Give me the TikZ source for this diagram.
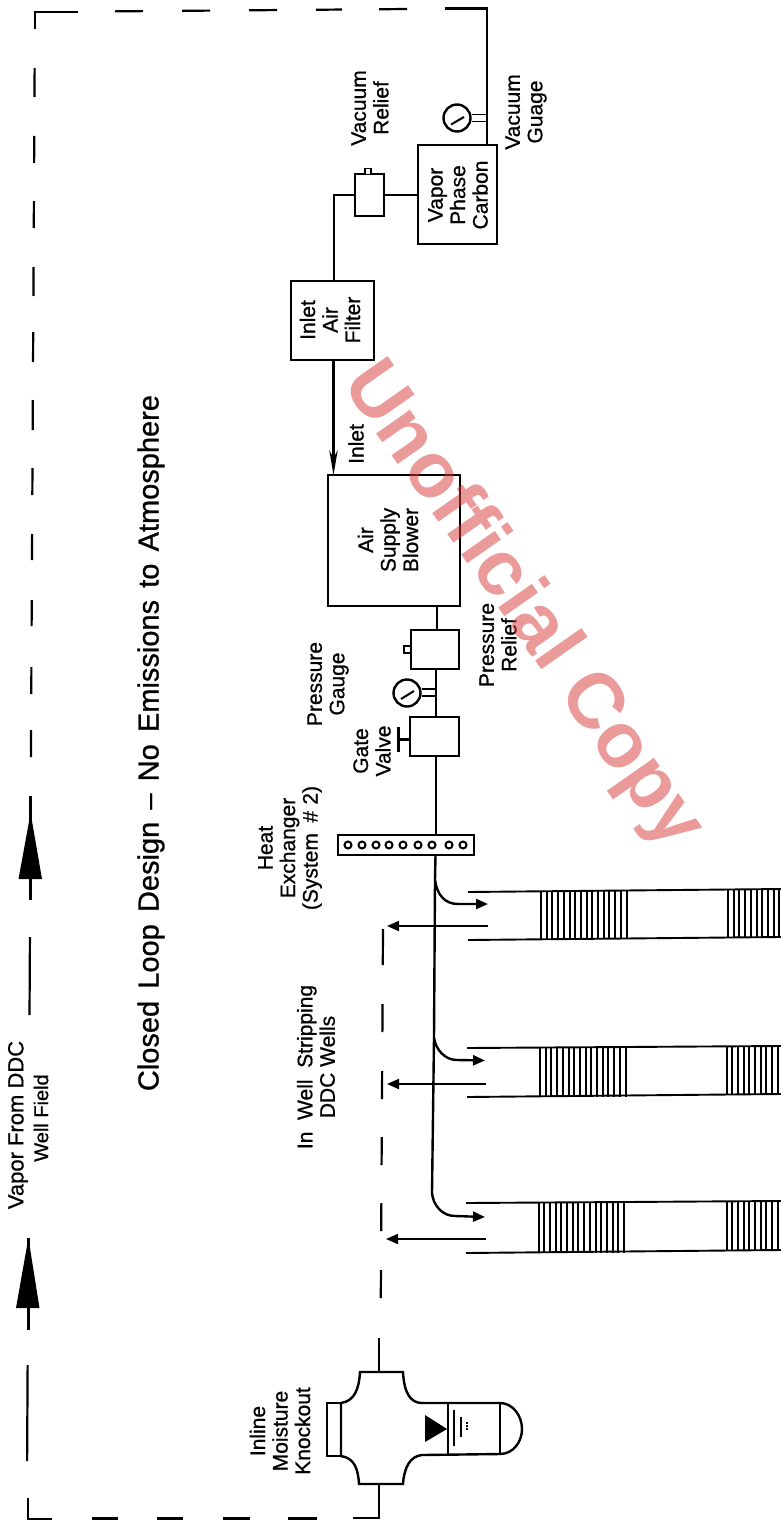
\documentclass[tikz,border=0pt]{standalone}
\usepackage{fontspec}
\setmainfont[FakeBold=0.8]{Liberation Sans}
\newfontfamily\wmfont{Liberation Sans Bold}
\usetikzlibrary{arrows.meta,calc}
\definecolor{wm}{HTML}{D93636}
\tikzset{
  x=1pt,y=-1pt,
  pipe/.style={draw=black,line width=2.4pt},
  thin pipe/.style={draw=black,line width=1.9pt},
  dashseg/.style={draw=black,line width=2.2pt},
  boxn/.style={draw=black,line width=2.5pt,fill=white,rectangle,inner sep=0pt,outer sep=0pt},
  lbl/.style={rotate=90,align=center,inner sep=0pt,font=\fontsize{21}{22.5}\selectfont},
  head/.style={-{Triangle[length=12pt,width=10pt]}},
  hatchline/.style={draw=black,line width=2pt},
  dial/.style={circle,draw=black,line width=2.4pt,fill=white,minimum size=27pt,inner sep=0pt},
  tube/.style={circle,draw=black,line width=2pt,fill=white,minimum size=7pt,inner sep=0pt}
}
\begin{document}
\begin{tikzpicture}
\useasboundingbox (0,0) rectangle (781,1522);
\fill[white] (0,0) rectangle (781,1522);

% outer dashed return line
\draw[dashseg] (35,29) -- (35,12) -- (78,12);
\foreach \a/\b in {115/143,182/210,249/277,316/342,379/407}
  \draw[dashseg] (\a,{12-(\a-35)*0.008}) -- (\b,{12-(\b-35)*0.008});
\foreach \a/\b in {68/97,136/163,201/228,267/296,332/362,400/430,468/495,534/560,600/626,667/694,730/757,937/1015,1365/1461}
  \draw[dashseg] ({35-\a*0.0054},\a) -- ({35-\b*0.0054},\b);
\draw[dashseg] (28,1498) -- (28,1519) -- (52,1519);
\foreach \a/\b in {92/118,157/183,223/250,288/317}
  \draw[dashseg] (\a,1518.5) -- (\b,1518.5);

% big flow arrows
\coordinate (a1top) at (30.6,796); \coordinate (a1bot) at (30.6,900);
\coordinate (a2top) at (28.4,1238); \coordinate (a2bot) at (28.4,1330);
\draw[pipe,line width=2.8pt] (a1top) -- (a1bot);
\draw[pipe,line width=2.8pt] (a2top) -- (a2bot);
\fill[black] (30.6,813) -- (42,879) -- (18.5,879) -- cycle;
\fill[black] (28.4,1238) -- (39.5,1308) -- (16,1308) -- cycle;

% boxes
\node[boxn,minimum width=79pt,minimum height=99pt] (carbon) at (457.5,194.5) {};
\node[boxn,minimum width=29pt,minimum height=42pt] (vrelief) at (369.5,195) {};
\node[boxn,line width=1.8pt,minimum width=6pt,minimum height=6pt] (vknob) at (368,171.5) {};
\node[boxn,minimum width=83pt,minimum height=79pt] (filter) at (332.5,320.5) {};
\node[boxn,minimum width=132pt,minimum height=131pt] (blower) at (394,540.5) {};
\node[boxn,minimum width=48pt,minimum height=39pt] (prelief) at (435,649.5) {};
\node[boxn,line width=1.8pt,minimum width=7pt,minimum height=7pt] (pknob) at (407.5,649.5) {};
\node[boxn,minimum width=49pt,minimum height=39pt] (gate) at (434.5,736.5) {};
\node[boxn,minimum width=136pt,minimum height=20pt] (hx) at (406,845) {};

\foreach \n/\x in {1/348,2/362,3/376,4/389,5/403,6/418,7/432,8/449,9/463}
  \node[tube] (t\n) at (\x,845) {};

% gauges
\node[dial] (vg) at (457,118) {};
\node[dial] (pg) at (407,693) {};
\draw[pipe,line width=2pt] (451,124.5) -- (464,117);
\draw[pipe,line width=2pt] (401,699) -- (414,691);

% piping
\coordinate (tr) at (487,8.5);
\draw[dashseg] (445,8.5) -- (tr) -- (tr |- carbon.north);
\draw[thin pipe] (vg.east |- 0,114.5) -- (487,114.5);
\draw[thin pipe] (vg.east |- 0,121.5) -- (487,121.5);
\draw[pipe] (vrelief.east) -- (carbon.west |- vrelief.east);
\coordinate (vl) at (334,195);
\draw[pipe] (vrelief.west) -- (vl) -- (vl |- filter.north);
\coordinate (bi) at (333.5,475);
\draw[pipe,-{Stealth[length=25pt,width=8.5pt]}] (bi |- filter.south) -- (bi);
\coordinate (bo) at (437,606);
\draw[pipe] (bo) -- (bo |- prelief.north);
\coordinate (m1) at (436,669);
\draw[pipe] (m1) -- (m1 |- gate.north);
\draw[thin pipe] (pg.east |- 0,689) -- (436,689);
\draw[thin pipe] (pg.east |- 0,696) -- (436,696);
\draw[pipe,line width=3pt] (gate.west |- 0,739) -- (398,739);
\draw[pipe,line width=3pt] (398,727) -- (398,752);
\coordinate (m2) at (436,756);
\draw[pipe] (m2) -- (m2 |- hx.north);
\coordinate (m3) at (435.5,855);
\coordinate (j1) at (435,880);
\coordinate (j2) at (434,1038);
\coordinate (j3) at (432,1193);
\draw[pipe] (m3) -- (j1) -- (j2) -- (j3);
\draw[pipe,head] (j1) .. controls (437,895) and (445,904) .. (458,904) -- (488,904);
\draw[pipe,head] (j2) .. controls (436,1050) and (445,1060) .. (457,1060) -- (485,1060.5);
\draw[pipe,head] (j3) .. controls (433,1205) and (442,1216) .. (455,1216) -- (485,1217);

% in-well return dashed
\foreach \a/\b in {929/965,1004/1032,1071/1099,1137/1165,1203/1231,1270/1298}
  \draw[dashseg] ({383-(\a-929)*0.006},\a) -- ({383-(\b-929)*0.006},\b);

% wells
\draw[thin pipe] (468,892) -- (781,889);
\draw[thin pipe] (468,940) -- (781,937);
\draw[thin pipe] (467,1048) -- (781,1046);
\draw[thin pipe] (467,1097) -- (781,1094);
\draw[thin pipe] (466,1203) -- (781,1201);
\draw[thin pipe] (466,1253) -- (781,1250);
\foreach \x in {541,546.7,...,626.5} \draw[hatchline] (\x,891) -- (\x,939);
\foreach \x in {728,733.7,...,781} \draw[hatchline] (\x,890) -- (\x,938);
\foreach \x in {540,545.7,...,625.5} \draw[hatchline] (\x,1047.5) -- (\x,1096.5);
\foreach \x in {726.5,732.2,...,781} \draw[hatchline] (\x,1046) -- (\x,1095);
\foreach \x in {538.5,544.2,...,625} \draw[hatchline] (\x,1202.5) -- (\x,1252.5);
\foreach \x in {726.5,732.2,...,781} \draw[hatchline] (\x,1201) -- (\x,1250.5);
\coordinate (r1s) at (488,926); \coordinate (r1e) at (387,926);
\coordinate (r2s) at (486,1084); \coordinate (r2e) at (387,1084);
\coordinate (r3s) at (486,1239); \coordinate (r3e) at (386,1239);
\draw[thin pipe,head] (r1s) -- (r1e);
\draw[thin pipe,head] (r2s) -- (r2e);
\draw[thin pipe,head] (r3s) -- (r3e);

% moisture knockout
\coordinate (ko1) at (379,1338);
\coordinate (ko2) at (379,1518);
\draw[pipe] (ko1) -- (379,1372);
\draw[pipe] (379,1484) -- (ko2) -- (353,1518);
\draw[pipe,fill=white,line width=2.4pt] (360,1372) -- (403,1372)
  .. controls (404,1392) and (410,1403) .. (422,1403) -- (500,1403)
  .. controls (513,1403) and (522,1416) .. (522,1429)
  .. controls (522,1442) and (513,1454) .. (500,1454) -- (422,1455)
  .. controls (410,1456) and (404,1468) .. (403,1484) -- (359,1484)
  .. controls (358,1468) and (354,1458) .. (341,1456) -- (341,1403)
  .. controls (354,1401) and (359,1390) .. (360,1372) -- cycle;
\draw[pipe] (341,1403) -- (327,1403) -- (327,1456) -- (341,1456);
\draw[pipe] (448,1403) -- (448,1454);
\draw[pipe] (500,1403) -- (500,1454);
\fill[black] (425,1415) -- (447,1429) -- (425,1442) -- cycle;
\draw[pipe,line width=2pt] (454,1410) -- (454,1446);
\draw[pipe,line width=2pt] (461,1417) -- (461,1437);
\draw[pipe,line width=2pt,densely dotted] (467,1422) -- (467,1431);

% labels
\node[lbl,font=\fontsize{29}{32}\selectfont] (title) at (151,743) {Closed\hspace{.42em}Loop\hspace{.42em}Design\hspace{.42em}--\hspace{.42em}No\hspace{.42em}Emissions\hspace{.42em}to\hspace{.42em}Atmosphere};
\node[lbl,font=\fontsize{22}{23}\selectfont] (vapor) at (18,1125) {Vapor From DDC};
\node[lbl,font=\fontsize{20}{23}\selectfont] (wellfield) at (41,1118) {Well Field};
\node[lbl] (tvr) at (370,108) {Vacuum\\Relief};
\node[lbl] (tvg) at (526,112) {Vacuum\\Guage};
\node[lbl] (tcarbon) at (458,195) {Vapor\\Phase\\Carbon};
\node[lbl] (tfilter) at (330,320) {Inlet\\Air\\Filter};
\node[lbl] (tinlet) at (356,444) {Inlet};
\node[lbl] (tblower) at (388,540) {Air\\Supply\\Blower};
\node[lbl] (tpr) at (498,645) {Pressure\\Relief};
\node[lbl] (tpg) at (328,684) {Pressure\\Gauge};
\node[lbl] (tgate) at (372,751) {Gate\\Valve};
\node[lbl] (thx) at (290,848) {Heat\\Exchanger\\(System\hspace{.5em}\#\hspace{.3em}2)};
\node[lbl] (twell) at (316,1067) {In\ \ Well\ \ Stripping\\DDC Wells};
\node[lbl] (tko) at (280,1431) {Inline\\Moisture\\Knockout};

% watermark
\node[rotate=-55,inner sep=0pt,text=wm,text opacity=0.5,font=\wmfont\fontsize{78}{78}\selectfont] (wmark) at (522,606) {Unofficial Copy};
\end{tikzpicture}
\end{document}
